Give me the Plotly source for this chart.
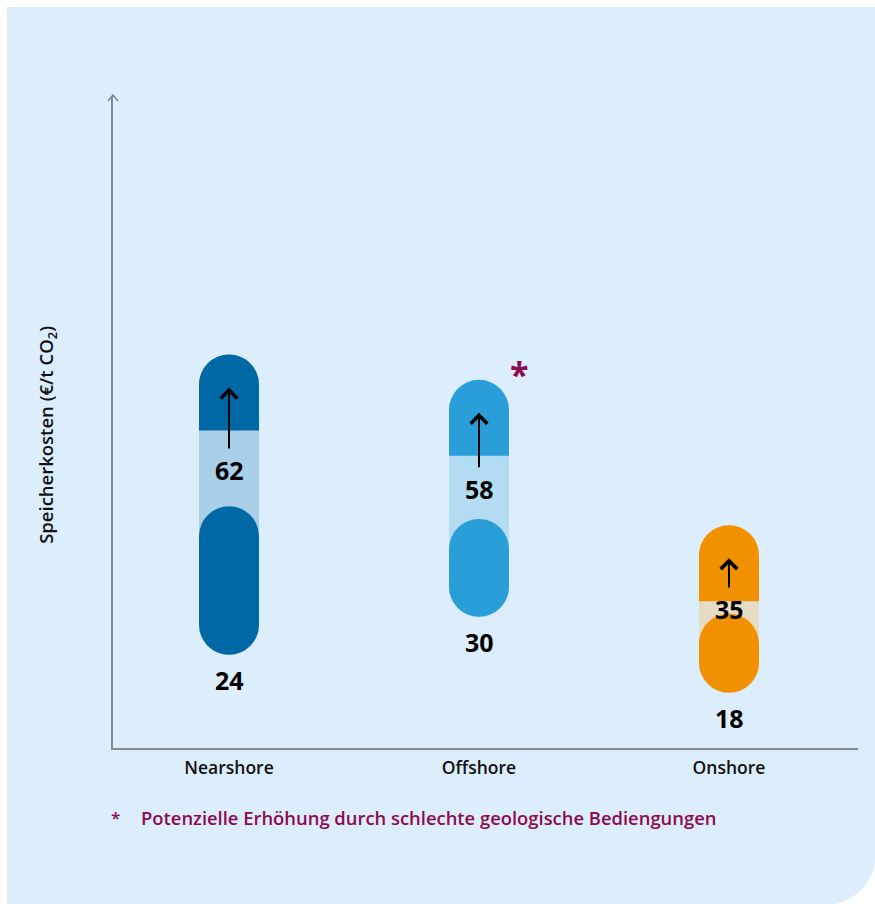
import plotly.graph_objects as go

# Storage cost ranges (EUR per tonne CO2) by storage location
categories = ["Nearshore", "Offshore", "Onshore"]
cost_low = [24, 30, 18]
cost_high = [62, 58, 35]
core_high = [38, 36, 21]  # upper end of the solid lower capsule

dark_colors = ["#0068a5", "#299ed8", "#f29100"]
light_colors = ["#a8cee8", "#b3dcf3", "#e5dcc3"]

FONT = "Open Sans"
TEXT = "#111111"
ACCENT = "#8c0a4f"
AXIS = "#858a8f"
PANEL = "#dcedfc"
R = 30          # capsule radius in px
CAP = 46        # straight part of the top cap in px

fig = go.Figure()
fig.add_trace(go.Scatter(x=[0, 1, 2], y=cost_high, mode="markers",
                         marker=dict(opacity=0), hoverinfo="skip",
                         showlegend=False))

shapes = []

# background panel with rounded lower-right corner (paper units)
L, Rt, T, B = -0.1423, 1.0228, 1.1382, -0.2396
cx0, cy0 = 0.9624, -0.1705
shapes.append(dict(
    type="path", xref="paper", yref="paper", layer="below",
    path=(f"M{L},{B} L{cx0},{B} C{cx0 + 0.0334},{B} {Rt},{B + 0.0382} {Rt},{cy0} "
          f"L{Rt},{T} L{L},{T} Z"),
    fillcolor=PANEL, line=dict(width=0)))

# open arrow head on top of the y axis
shapes.append(dict(
    type="path", xref="paper", yref="paper", xsizemode="pixel",
    ysizemode="pixel", xanchor=0, yanchor=1,
    path="M-5,-4 L0,2 L5,-4 M0,2 L0,0",
    line=dict(color=AXIS, width=1.6)))


def capsule_circle(i, yv, color):
    return dict(type="circle", xref="x", yref="y",
                xsizemode="pixel", ysizemode="pixel",
                xanchor=i, yanchor=yv, x0=-R, x1=R, y0=-R, y1=R,
                fillcolor=color, line=dict(width=0))


def capsule_body(i, y0, y1, color):
    return dict(type="rect", xref="x", yref="y", xsizemode="pixel",
                xanchor=i, x0=-R, x1=R, y0=y0, y1=y1,
                fillcolor=color, line=dict(width=0))


for i in range(len(categories)):
    lo, hi, core = cost_low[i], cost_high[i], core_high[i]
    dk, lt = dark_colors[i], light_colors[i]
    # full range capsule in light tone
    shapes.append(capsule_circle(i, lo, lt))
    shapes.append(capsule_circle(i, hi, lt))
    shapes.append(capsule_body(i, lo, hi, lt))
    # dark top cap
    shapes.append(capsule_circle(i, hi, dk))
    shapes.append(dict(type="rect", xref="x", yref="y",
                       xsizemode="pixel", ysizemode="pixel",
                       xanchor=i, yanchor=hi, x0=-R, x1=R, y0=-CAP, y1=0,
                       fillcolor=dk, line=dict(width=0)))
    # solid lower capsule
    shapes.append(capsule_circle(i, lo, dk))
    shapes.append(capsule_circle(i, core, dk))
    shapes.append(capsule_body(i, lo, core, dk))

annotations = []
for i in range(len(categories)):
    lo, hi, core = cost_low[i], cost_high[i], core_high[i]
    label_y = (hi + core) / 2 - 1.5
    # upper value with arrow pointing to the top of the range
    annotations.append(dict(
        x=i, y=hi, ax=i, ay=label_y, xref="x", yref="y", axref="x", ayref="y",
        text=f"<b>{hi}</b>", showarrow=True, arrowhead=4, arrowsize=1.6,
        arrowwidth=2, arrowcolor="#000000", standoff=3, borderpad=4,
        font=dict(family=FONT, size=25, color="#000000")))
    # lower value below the capsule
    annotations.append(dict(
        x=i, y=lo, xref="x", yref="y", text=f"<b>{lo}</b>", showarrow=False,
        yshift=-55, font=dict(family=FONT, size=25, color="#000000")))

# asterisk marking the offshore range
annotations.append(dict(
    x=1, y=cost_high[1], xref="x", yref="y", text="<b>*</b>", showarrow=False,
    xshift=40, yshift=36, font=dict(family=FONT, size=34, color=ACCENT)))

# y axis title
annotations.append(dict(
    x=-0.0886, y=0.481, xref="paper", yref="paper", textangle=-90,
    xanchor="center", yanchor="middle",
    text="Speicherkosten (€/t CO<sub>2</sub>)", showarrow=False,
    font=dict(family=FONT, size=18.5, color=TEXT, weight=600)))

# footnote
annotations.append(dict(
    x=0.003, y=-0.1075, xref="paper", yref="paper", text="*", showarrow=False,
    xanchor="center", yanchor="middle",
    font=dict(family=FONT, size=17, color=ACCENT, weight=600)))
annotations.append(dict(
    x=0.0349, y=-0.1075, xref="paper", yref="paper",
    text="Potenzielle Erhöhung durch schlechte geologische Bediengungen",
    showarrow=False, xanchor="left", yanchor="middle",
    font=dict(family=FONT, size=18.4, color=ACCENT, weight=600)))

fig.update_layout(
    width=875, height=904,
    margin=dict(l=113, r=17, t=97, b=156),
    paper_bgcolor="#ffffff", plot_bgcolor="rgba(0,0,0,0)",
    shapes=shapes, annotations=annotations, showlegend=False,
    xaxis=dict(range=[-0.464, 2.516], tickvals=[0, 1, 2], ticktext=categories,
               showline=True, linecolor=AXIS, linewidth=2, showgrid=False,
               zeroline=False, ticks="", ticklabelstandoff=3,
               tickfont=dict(family=FONT, size=17.5, color=TEXT, weight=600),
               fixedrange=True),
    yaxis=dict(range=[4.5, 107.5], showline=True, linecolor=AXIS, linewidth=2,
               showgrid=False, zeroline=False, showticklabels=False, ticks="",
               fixedrange=True),
)

fig.write_html("out.html")
